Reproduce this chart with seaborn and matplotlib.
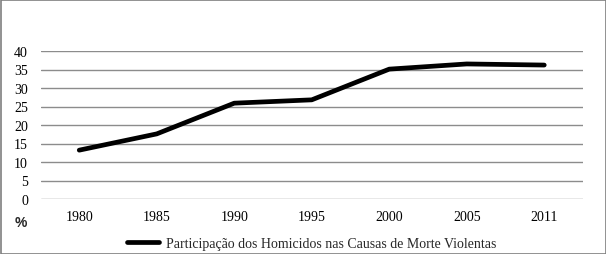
import pandas as pd
import matplotlib.pyplot as plt
import seaborn as sns
from matplotlib.patches import Rectangle

# Participação dos homicídios nas causas de morte violentas (%)
years = ['1980', '1985', '1990', '1995', '2000', '2005', '2011']
share = [13.2, 17.6, 25.9, 26.8, 35.1, 36.5, 36.2]
series_name = 'Participação dos Homicidos nas Causas de Morte Violentas'

df = pd.DataFrame({'ano': years, 'pct': share})

sns.set_style('white')
plt.rcParams['font.family'] = ['Liberation Serif', 'DejaVu Serif']

fig = plt.figure(figsize=(6.06, 2.55), dpi=100)
ax = fig.add_axes([40.5 / 606, 1 - 200 / 255, (583 - 40.5) / 606, 148 / 255])

sns.lineplot(data=df, x='ano', y='pct', ax=ax, color='black', linewidth=3.4,
             solid_capstyle='round', solid_joinstyle='round', label=series_name,
             sort=False)

ax.set_ylim(0, 40)
ax.set_xlim(-0.5, len(years) - 0.5)
ax.set_yticks(range(0, 41, 5))
ax.yaxis.grid(True, color='#8c8c8c', linewidth=1)
ax.set_axisbelow(True)
for s in ax.spines.values():
    s.set_visible(False)
ax.tick_params(axis='both', length=0, labelsize=10, colors='black')
ax.tick_params(axis='y', pad=9)
ax.tick_params(axis='x', pad=8)
ax.set_xlabel('')
ax.set_ylabel('')

fig.text(21 / 606, 1 - 223 / 255, '%', fontsize=10, fontweight='bold',
         family=['Liberation Sans', 'DejaVu Sans'], ha='center', va='center')

ax.legend(loc='center', bbox_to_anchor=(0.5, -0.3), frameon=False,
          fontsize=10, handlelength=2.3, handletextpad=0.5)

fig.patches.append(Rectangle((0.5 / 606, 0.5 / 255), 605 / 606, 254 / 255,
                             transform=fig.transFigure, fill=False,
                             edgecolor='#7f7f7f', linewidth=1.2))

fig.savefig('out.png', dpi=100)
